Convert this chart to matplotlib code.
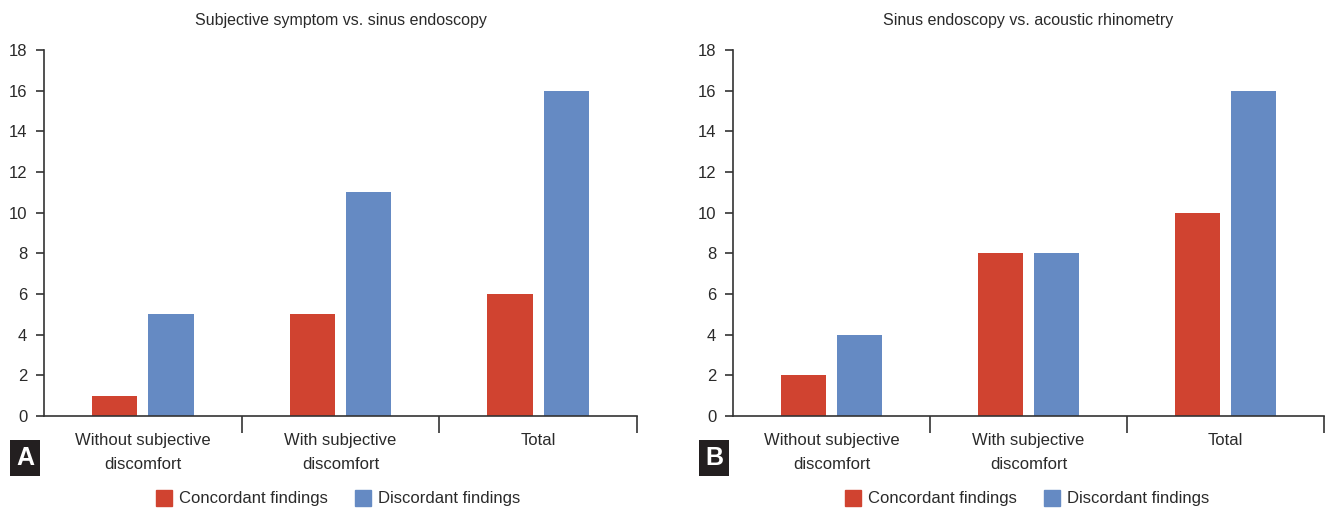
import numpy as np
import matplotlib.pyplot as plt
from matplotlib.patches import Patch

plt.rcParams['font.family'] = ['Liberation Sans', 'DejaVu Sans']

categories = ['Without subjective\ndiscomfort', 'With subjective\ndiscomfort', 'Total']
titles = ['Subjective symptom vs. sinus endoscopy', 'Sinus endoscopy vs. acoustic rhinometry']
panel_letters = ['A', 'B']

concordant_a = [1, 5, 6]
discordant_a = [5, 11, 16]
concordant_b = [2, 8, 10]
discordant_b = [4, 8, 16]

red = '#D04330'
blue = '#658AC3'
dark = '#333333'
txt = '#2a2a2a'

fig = plt.figure(figsize=(13.31, 5.09), dpi=100)
axes = [fig.add_axes([44/1331, 1-416/509, 593/1331, 366/509]),
        fig.add_axes([733/1331, 1-416/509, 591/1331, 366/509])]

data = [(concordant_a, discordant_a), (concordant_b, discordant_b)]
x = np.arange(len(categories))
w = 0.23

for ax, (conc, disc), title in zip(axes, data, titles):
    ax.bar(x - 0.143, conc, w, color=red)
    ax.bar(x + 0.143, disc, w, color=blue)
    ax.set_xlim(-0.5, 2.5)
    ax.set_ylim(0, 18)
    ax.set_yticks(range(0, 19, 2))
    ax.spines['top'].set_visible(False)
    ax.spines['right'].set_visible(False)
    for s in ['left', 'bottom']:
        ax.spines[s].set_color(dark)
        ax.spines[s].set_linewidth(1.2)
    ax.tick_params(axis='y', direction='out', length=6, width=1.2, color=dark,
                   labelsize=12, labelcolor=txt, pad=6)
    # category boundaries as ticks, labels as minor
    ax.set_xticks([0.5, 1.5, 2.5])
    ax.set_xticklabels([])
    ax.tick_params(axis='x', which='major', direction='out', length=12, width=1.2, color=dark)
    ax.set_xticks(x, minor=True)
    ax.set_xticklabels(categories, minor=True, fontsize=12, color=txt, linespacing=1.75)
    ax.tick_params(axis='x', which='minor', length=0, pad=12.5)
    ax.set_title(title, fontsize=11.5, color=txt, pad=18)

# panel letters
for letter, xl in zip(panel_letters, [8, 697]):
    fig.text((xl + 17)/1331, 1-458/509, letter, ha='center', va='center', fontsize=18,
             fontweight='bold', color='white',
             bbox=dict(boxstyle='square,pad=0.25', fc='#231F20', ec='none'))

# legends
handles = [Patch(color=red, label='Concordant findings'),
           Patch(color=blue, label='Discordant findings')]
for cx in [338/1331, 1027/1331]:
    fig.legend(handles=handles, loc='center', bbox_to_anchor=(cx, 1-498/509), ncol=2,
               frameon=False, fontsize=12, handlelength=1.0, handleheight=1.1,
               handletextpad=0.4, columnspacing=1.6, labelcolor=txt)

fig.savefig('out.png', dpi=100)
